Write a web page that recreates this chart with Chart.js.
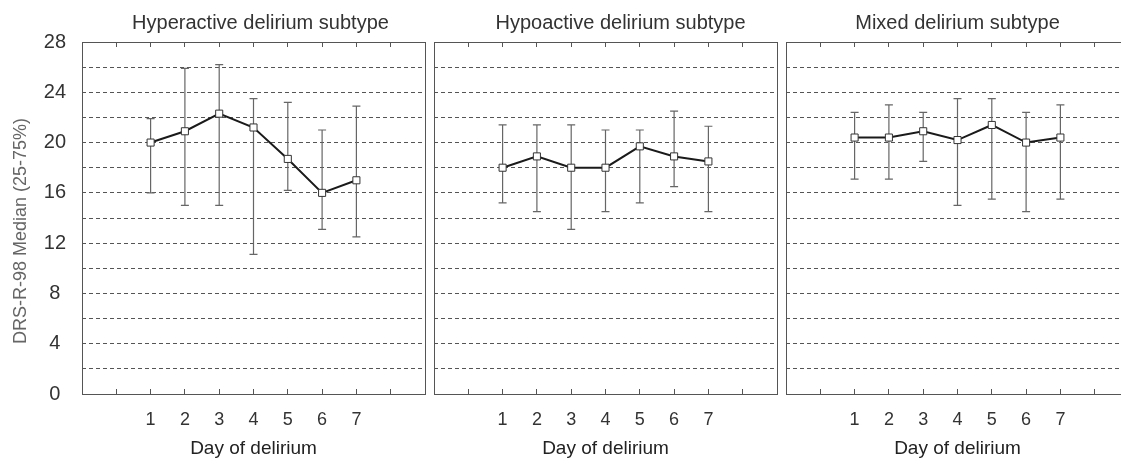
<!DOCTYPE html>
<html>
<head>
<meta charset="utf-8">
<script src="https://cdn.jsdelivr.net/npm/chart.js@4"></script>
<style>
html, body { margin: 0; padding: 0; background: #fff; overflow: hidden; }
#wrap { position: relative; width: 1121px; height: 461px; overflow: hidden; }
canvas { position: absolute; top: 0; }
</style>
</head>
<body>
<div id="wrap">
    <canvas id="hyper" width="431" height="461" style="left:0px"></canvas>
    <canvas id="hypo" width="355" height="461" style="left:428px"></canvas>
    <canvas id="mixed" width="355" height="461" style="left:780px"></canvas>
</div>
<script>
"use strict";

// Day of delirium
var days = [1, 2, 3, 4, 5, 6, 7];
var yTicks = [0, 4, 8, 12, 16, 20, 24, 28];

// Hyperactive delirium subtype: median, 25% and 75%
var hyperMedian = [20, 20.9, 22.3, 21.2, 18.7, 16, 17];
var hyperQ1 = [16, 15, 15, 11.1, 16.2, 13.1, 12.5];
var hyperQ3 = [21.9, 25.9, 26.2, 23.5, 23.2, 21, 22.9];

// Hypoactive delirium subtype
var hypoMedian = [18, 18.9, 18, 18, 19.7, 18.9, 18.5];
var hypoQ1 = [15.2, 14.5, 13.1, 14.5, 15.2, 16.5, 14.5];
var hypoQ3 = [21.4, 21.4, 21.4, 21, 21, 22.5, 21.3];

// Mixed delirium subtype
var mixedMedian = [20.4, 20.4, 20.9, 20.2, 21.4, 20, 20.4];
var mixedQ1 = [17.1, 17.1, 18.5, 15, 15.5, 14.5, 15.5];
var mixedQ3 = [22.4, 23, 22.4, 23.5, 23.5, 22.4, 23];

var FONT = "'Liberation Sans', Arial, sans-serif";
var INK = '#333';

// Whiskers from 25% to 75%, drawn under the median line
var errorBars = {
    id: 'errorBars',
    beforeDatasetsDraw: function (chart, args, opts) {
        var ctx = chart.ctx;
        var x = chart.scales.x, y = chart.scales.y;
        ctx.save();
        ctx.strokeStyle = '#666';
        ctx.lineWidth = 1.2;
        days.forEach(function (d, i) {
            var px = x.getPixelForValue(d);
            var lo = y.getPixelForValue(opts.low[i]);
            var hi = y.getPixelForValue(opts.high[i]);
            ctx.beginPath();
            ctx.moveTo(px, lo); ctx.lineTo(px, hi);
            ctx.moveTo(px - 4, lo); ctx.lineTo(px + 4, lo);
            ctx.moveTo(px - 4, hi); ctx.lineTo(px + 4, hi);
            ctx.stroke();
        });
        ctx.restore();
    }
};

// Panel frame and titles
var panelFrame = {
    id: 'panelFrame',
    beforeDatasetsDraw: function (chart) {
        var a = chart.chartArea, ctx = chart.ctx;
        ctx.save();
        ctx.strokeStyle = '#555';
        ctx.lineWidth = 1;
        ctx.strokeRect(Math.round(a.left) + 0.5, Math.round(a.top) + 0.5,
            Math.round(a.right - a.left), Math.round(a.bottom - a.top));
        ctx.restore();
    },
    afterDraw: function (chart, args, opts) {
        var a = chart.chartArea, ctx = chart.ctx;
        ctx.save();
        ctx.fillStyle = INK;
        ctx.font = '20px ' + FONT;
        ctx.textAlign = 'center';
        ctx.textBaseline = 'alphabetic';
        ctx.fillText(opts.text, (a.left + a.right) / 2 + opts.shift, 28.5);
        if (opts.yTitle) {
            ctx.translate(21, 231);
            ctx.rotate(-Math.PI / 2);
            ctx.fillStyle = '#666';
            ctx.font = '18px ' + FONT;
            ctx.textBaseline = 'middle';
            ctx.fillText(opts.yTitle, 0, 0);
        }
        ctx.restore();
    }
};

function makePanel(id, title, shift, median, q1, q3, leftWidth, yTitle) {
    var points = days.map(function (d, i) {
        return { x: d, y: median[i] };
    });
    var showY = !!yTitle;

    return new Chart(document.getElementById(id), {
        type: 'line',
        data: {
            datasets: [{
                data: points,
                borderColor: '#1a1a1a',
                borderWidth: 2,
                tension: 0,
                pointStyle: 'rect',
                pointRadius: 5,
                pointBackgroundColor: '#fff',
                pointBorderColor: '#333',
                pointBorderWidth: 1
            }]
        },
        options: {
            responsive: false,
            animation: false,
            events: [],
            layout: { padding: { top: 42, left: 0, right: 0, bottom: 0 } },
            scales: {
                x: {
                    type: 'linear',
                    position: 'bottom',
                    min: -1,
                    max: 9,
                    afterFit: function (s) {
                        s.height = 67;
                        s.paddingLeft = 0;
                        s.paddingRight = 0;
                    },
                    ticks: {
                        stepSize: 1,
                        padding: 20,
                        autoSkip: false,
                        maxRotation: 0,
                        color: INK,
                        font: { family: FONT, size: 18 },
                        callback: function (v) { return days.indexOf(v) >= 0 ? v : ''; }
                    },
                    grid: { drawOnChartArea: false, drawTicks: true, tickLength: -5, tickColor: '#555' },
                    border: { display: false },
                    title: {
                        display: true,
                        text: 'Day of delirium',
                        color: '#222',
                        font: { family: FONT, size: 19 },
                        padding: { top: 0, bottom: 1 }
                    }
                },
                x2: {
                    type: 'linear',
                    position: 'top',
                    min: -1,
                    max: 9,
                    afterFit: function (s) {
                        s.height = 0;
                        s.paddingLeft = 0;
                        s.paddingRight = 0;
                    },
                    ticks: { stepSize: 1, display: false, autoSkip: false },
                    grid: { drawOnChartArea: false, drawTicks: true, tickLength: -5, tickColor: '#555' },
                    border: { display: false }
                },
                y: {
                    min: 0,
                    max: 28,
                    afterFit: function (s) {
                        s.width = leftWidth;
                        s.paddingTop = 0;
                        s.paddingBottom = 0;
                    },
                    ticks: {
                        display: showY,
                        stepSize: 2,
                        autoSkip: false,
                        padding: 16,
                        crossAlign: 'center',
                        color: INK,
                        font: { family: FONT, size: 20 },
                        callback: function (v) { return yTicks.indexOf(v) >= 0 ? v : ''; }
                    },
                    grid: { color: '#555', lineWidth: 1, drawTicks: false },
                    border: { display: false, dash: [4, 3] }
                }
            },
            plugins: {
                legend: { display: false },
                tooltip: { enabled: false },
                errorBars: { low: q1, high: q3 },
                panelFrame: { text: title, shift: shift, yTitle: yTitle }
            }
        },
        plugins: [errorBars, panelFrame]
    });
}

makePanel('hyper', 'Hyperactive delirium subtype', 7, hyperMedian, hyperQ1, hyperQ3, 82, 'DRS-R-98 Median (25-75%)');
makePanel('hypo', 'Hypoactive delirium subtype', 15, hypoMedian, hypoQ1, hypoQ3, 6, null);
makePanel('mixed', 'Mixed delirium subtype', 0, mixedMedian, mixedQ1, mixedQ3, 6, null);
</script>
</body>
</html>
